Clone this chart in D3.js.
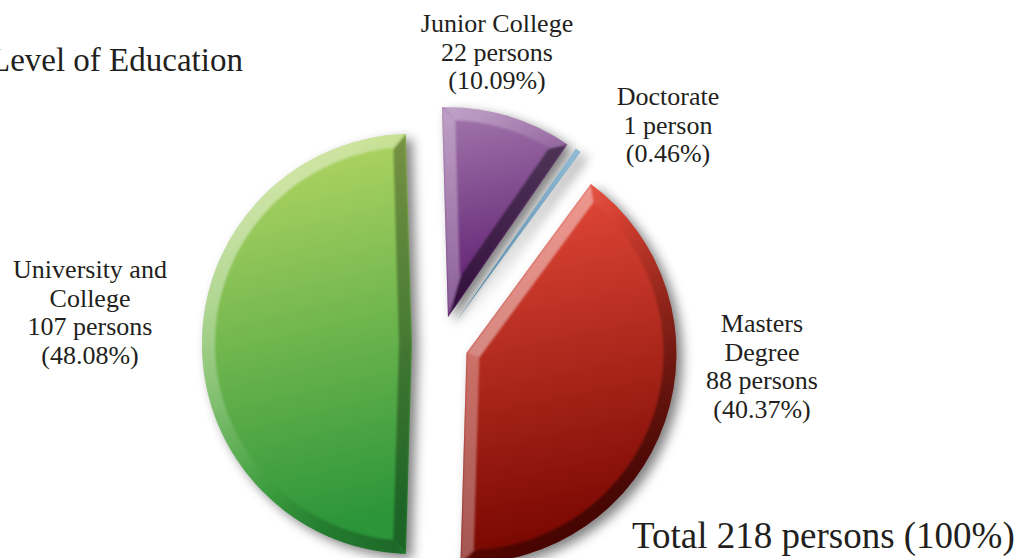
<!DOCTYPE html>
<html>
<head>
<meta charset="utf-8">
<script src="https://cdn.jsdelivr.net/npm/d3@7/dist/d3.min.js"></script>
<style>
  html, body { margin: 0; padding: 0; background: #fff; overflow: hidden; }
  svg { display: block; }
  text { font-family: "Liberation Serif", "Times New Roman", serif; fill: #231f20; }
</style>
</head>
<body>
<svg id="chart" width="1019" height="558"></svg>
<script>
// data
const categories = ["Junior College", "Doctorate", "Masters Degree", "University and College"];
const persons = [22, 1, 88, 107];
const percentLabels = ["10.09%", "0.46%", "40.37%", "48.08%"];
const nameLines = [["Junior College"], ["Doctorate"], ["Masters", "Degree"], ["University and", "College"]];
const totalPersons = 218;

// layout
const WIDTH = 1019;
const HEIGHT = 558;
const CENTER = { x: 440, y: 344 };
const RADIUS = 210;
const EXPLODE = 28;
const BEVEL = 13;
const LIGHT = [-Math.SQRT1_2, -Math.SQRT1_2]; // light comes from the upper left
const LINE_HEIGHT = 28.5;
const LABEL_ANCHORS = [
  { x: 497, y: 32 },
  { x: 668, y: 105 },
  { x: 762, y: 332 },
  { x: 90, y: 278 },
];

// top / bottom colour of each slice
const SLICE_COLORS = [
  ["#a378ad", "#58176b"],
  ["#9cc3da", "#4d82a5"],
  ["#e94c3b", "#760600"],
  ["#bcda66", "#2b9539"],
];

const svg = d3.select("#chart");
const defs = svg.append("defs");

// soft grey drop shadow
const shadow = defs.append("filter")
  .attr("id", "shadow")
  .attr("x", "-30%").attr("y", "-30%")
  .attr("width", "160%").attr("height", "160%");
shadow.append("feGaussianBlur").attr("in", "SourceAlpha").attr("stdDeviation", 6).attr("result", "b");
shadow.append("feOffset").attr("in", "b").attr("dx", 6).attr("dy", 5).attr("result", "o");
shadow.append("feComponentTransfer").attr("in", "o")
  .append("feFuncA").attr("type", "linear").attr("slope", 0.5);

const soften = defs.append("filter").attr("id", "soften")
  .attr("x", "-10%").attr("y", "-10%").attr("width", "120%").attr("height", "120%");
soften.append("feGaussianBlur").attr("stdDeviation", 1.2);

SLICE_COLORS.forEach((c, i) => {
  const grad = defs.append("linearGradient")
    .attr("id", "grad" + i)
    .attr("x1", 0).attr("y1", 0).attr("x2", 0.12).attr("y2", 1);
  grad.append("stop").attr("offset", "0%").attr("stop-color", c[0]);
  grad.append("stop").attr("offset", "100%").attr("stop-color", c[1]);
});

// rotate the pie so the largest slice is centred on 9 o'clock
const total = d3.sum(persons);
const before = d3.sum(persons.slice(0, 3));
const startAngle = Math.PI * 1.5 - ((before + persons[3] / 2) / total) * 2 * Math.PI;

const pie = d3.pie().sort(null).value((d) => d)
  .startAngle(startAngle)
  .endAngle(startAngle + 2 * Math.PI);
const arcs = pie(persons);
const arc = d3.arc().innerRadius(0).outerRadius(RADIUS);

// point at pie angle (0 = 12 o'clock, clockwise)
function pt(angle, r) {
  return [r * Math.sin(angle), -r * Math.cos(angle)];
}

function offsetOf(d) {
  const mid = (d.startAngle + d.endAngle) / 2;
  const o = pt(mid, EXPLODE);
  return [CENTER.x + o[0], CENTER.y + o[1]];
}

function shadeFill(n) {
  const dot = n[0] * LIGHT[0] + n[1] * LIGHT[1];
  return dot >= 0
    ? { fill: "#fff", opacity: 0.44 * dot }
    : { fill: "#000", opacity: 0.45 * -dot };
}

const root = svg.append("g");

// Draw shadows first so no slice gets covered by a neighbour's shadow
root.append("g").selectAll("path")
  .data(arcs)
  .join("path")
  .attr("transform", (d) => `translate(${offsetOf(d)})`)
  .attr("d", arc)
  .attr("fill", "#000")
  .attr("filter", "url(#shadow)");

// Draw slices
const slices = root.append("g").selectAll("g")
  .data(arcs)
  .join("g")
  .attr("transform", (d) => `translate(${offsetOf(d)})`);

slices.append("clipPath")
  .attr("id", (d, i) => "clip" + i)
  .append("path")
  .attr("d", arc);

slices.append("path")
  .attr("d", arc)
  .attr("fill", (d, i) => `url(#grad${i})`);

slices.each(function (d, i) {
  const a0 = d.startAngle;
  const a1 = d.endAngle;
  const half = (a1 - a0) / 2;
  const apexDist = BEVEL / Math.sin(half);
  if (apexDist > RADIUS * 0.6) return; // too thin for a bevel

  const rIn = RADIUS - BEVEL;
  const delta = Math.atan(BEVEL / Math.sqrt(rIn * rIn - BEVEL * BEVEL));
  const apex = pt((a0 + a1) / 2, apexDist);
  const c0 = pt(a0 + delta, rIn);
  const c1 = pt(a1 - delta, rIn);

  const pieces = [];
  // straight edge at the start angle
  pieces.push({ pts: [[0, 0], pt(a0, RADIUS), c0, apex], n: [-Math.cos(a0), -Math.sin(a0)] });
  // straight edge at the end angle
  pieces.push({ pts: [[0, 0], apex, c1, pt(a1, RADIUS)], n: [Math.cos(a1), Math.sin(a1)] });
  // curved rim, split into thin pieces so the lighting follows the arc
  const steps = Math.max(4, Math.ceil((a1 - a0) / (Math.PI / 120)));
  for (let k = 0; k < steps; k++) {
    const t0 = a0 + ((a1 - a0) * k) / steps;
    const t1 = a0 + ((a1 - a0) * (k + 1)) / steps;
    const s0 = a0 + delta + ((a1 - a0 - 2 * delta) * k) / steps;
    const s1 = a0 + delta + ((a1 - a0 - 2 * delta) * (k + 1)) / steps;
    const m = (t0 + t1) / 2;
    pieces.push({
      pts: [pt(t0, RADIUS + 2), pt(t1, RADIUS + 2), pt(s1, rIn), pt(s0, rIn)],
      n: [Math.sin(m), -Math.cos(m)],
    });
  }

  d3.select(this).append("g")
    .attr("clip-path", `url(#clip${i})`)
    .append("g")
    .attr("filter", "url(#soften)")
    .selectAll("path")
    .data(pieces)
    .join("path")
    .attr("d", (p) => "M" + p.pts.map((q) => q.join(",")).join("L") + "Z")
    .attr("fill", (p) => shadeFill(p.n).fill)
    .attr("fill-opacity", (p) => shadeFill(p.n).opacity);
});

// Labels
const labels = svg.append("g")
  .attr("font-size", 26)
  .attr("text-anchor", "middle");

categories.forEach((name, i) => {
  const lines = nameLines[i].concat([
    `${persons[i]} ${persons[i] === 1 ? "person" : "persons"}`,
    `(${percentLabels[i]})`,
  ]);
  const t = labels.append("text")
    .attr("x", LABEL_ANCHORS[i].x)
    .attr("y", LABEL_ANCHORS[i].y);
  lines.forEach((line, k) => {
    t.append("tspan")
      .attr("x", LABEL_ANCHORS[i].x)
      .attr("dy", k === 0 ? 0 : LINE_HEIGHT)
      .text(line);
  });
});

svg.append("text")
  .attr("x", -10)
  .attr("y", 71)
  .attr("font-size", 33)
  .text("Level of Education");

svg.append("text")
  .attr("x", 632)
  .attr("y", 548)
  .attr("font-size", 37)
  .text(`Total ${totalPersons} persons (100%)`);
</script>
</body>
</html>
